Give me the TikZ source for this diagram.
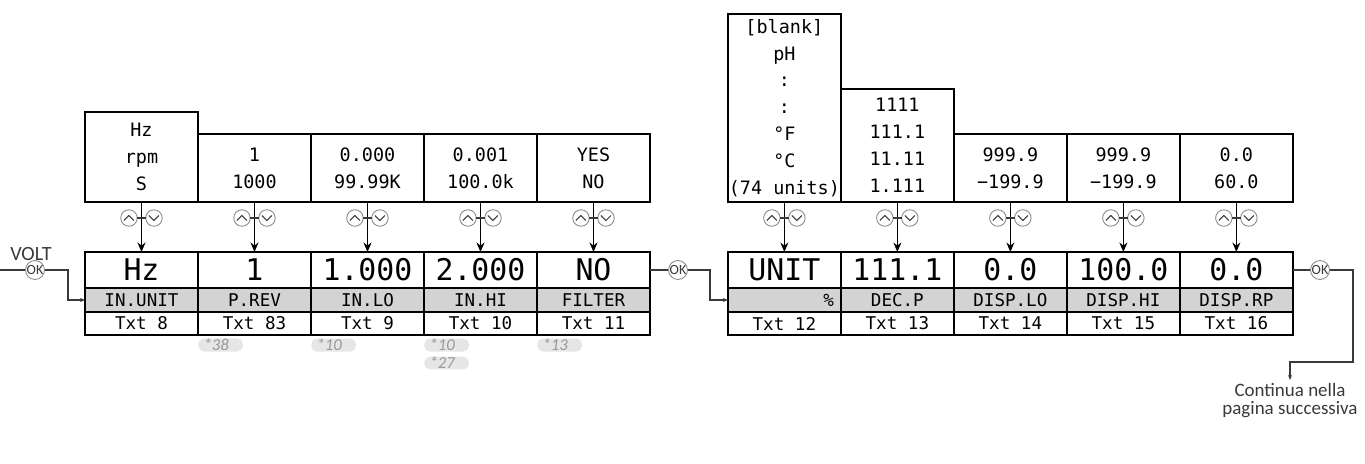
\documentclass[tikz,border=0pt]{standalone}
\usepackage{fontspec}
\usetikzlibrary{arrows.meta}
\newfontfamily\lcdfont{DejaVu Sans Mono}
\newfontfamily\labelfont{Carlito}
\definecolor{cellgray}{HTML}{D3D3D3}
\definecolor{linegray}{HTML}{3A3A3A}
\definecolor{keygray}{HTML}{8A8A8A}
\definecolor{notegray}{HTML}{E6E6E6}
\definecolor{notetext}{HTML}{999999}

% tasti su/giu' sotto la colonna in x = #1
\newcommand{\updownkeys}[1]{%
  \draw[keyring] ({#1-12.5},218) circle (0.165cm);
  \draw[keyring] ({#1+12.5},218) circle (0.165cm);
  \draw[keymark] ({#1-17.5},220.5) -- ({#1-12.5},215.5) -- ({#1-7.5},220.5);
  \draw[keymark] ({#1+7.5},215.5) -- ({#1+12.5},220.5) -- ({#1+17.5},215.5);
  \draw[keymark] ({#1-4.2},218) -- ({#1+4.2},218);
}

\begin{document}
\begin{tikzpicture}[x=0.02cm, y=-0.02cm,
    optbox/.style={draw, line width=0.8pt, minimum width=2.26cm, align=center,
      inner sep=0pt, outer sep=0pt, font=\lcdfont\fontsize{10.5}{15.3}\selectfont},
    valbox/.style={draw, line width=0.8pt, minimum width=2.26cm, minimum height=0.72cm,
      inner sep=0pt, outer sep=0pt, font=\lcdfont\fontsize{17}{20}\selectfont},
    namebox/.style={draw, fill=cellgray, line width=0.8pt, minimum width=2.26cm,
      minimum height=0.48cm, inner sep=0pt, outer sep=0pt,
      font=\lcdfont\fontsize{10}{12}\selectfont},
    txtbox/.style={namebox, fill=white, minimum height=0.46cm},
    okkey/.style={circle, draw=keygray, line width=0.5pt, fill=white, minimum size=0.36cm,
      inner sep=0pt, font=\labelfont\fontsize{8}{8}\selectfont, text=linegray},
    keyring/.style={draw=keygray, line width=0.5pt},
    keymark/.style={draw=linegray, line width=0.6pt},
    flow/.style={draw=linegray, line width=0.6pt, -{Stealth[length=0.1cm, width=0.08cm]}},
    pick/.style={-{Stealth[length=0.19cm, width=0.16cm]}, line width=0.8pt},
    note/.style={anchor=west, fill=notegray, text=notetext, rounded corners=0.11cm,
      text width=0.68cm, align=left, inner xsep=3pt, inner ysep=0.3pt,
      font=\labelfont\itshape\fontsize{9.5}{9.5}\selectfont},
    lbl/.style={font=\labelfont\fontsize{11.5}{11.5}\selectfont, align=center, text=linegray}
  ]
  \useasboundingbox (0,0) rectangle (1365,463);

  % gruppo sinistro: ingresso VOLT
  \begin{scope}[xshift=1.7cm]
    \node[optbox, minimum height=1.8cm] (opt1) at (56.5,157) {Hz\\rpm\\S};
    \node[optbox, minimum height=1.36cm] (opt2) at (169.5,168) {1\\1000};
    \node[optbox, minimum height=1.36cm] (opt3) at (282.5,168) {0.000\\99.99K};
    \node[optbox, minimum height=1.36cm] (opt4) at (395.5,168) {0.001\\100.0k};
    \node[optbox, minimum height=1.36cm] (opt5) at (508.5,168) {YES\\NO};

    \node[valbox] (val1) at (56.5,270) {Hz};
    \node[valbox] (val2) at (169.5,270) {1};
    \node[valbox] (val3) at (282.5,270) {1.000};
    \node[valbox] (val4) at (395.5,270) {2.000};
    \node[valbox] (val5) at (508.5,270) {NO};

    \node[namebox] (name1) at (56.5,300) {IN.UNIT};
    \node[namebox] (name2) at (169.5,300) {P.REV};
    \node[namebox] (name3) at (282.5,300) {IN.LO};
    \node[namebox] (name4) at (395.5,300) {IN.HI};
    \node[namebox] (name5) at (508.5,300) {FILTER};

    \node[txtbox] (txt1) at (56.5,323.5) {Txt 8};
    \node[txtbox] (txt2) at (169.5,323.5) {Txt 83};
    \node[txtbox] (txt3) at (282.5,323.5) {Txt 9};
    \node[txtbox] (txt4) at (395.5,323.5) {Txt 10};
    \node[txtbox] (txt5) at (508.5,323.5) {Txt 11};

    \draw[pick] (opt1) -- (val1);
    \draw[pick] (opt2) -- (val2);
    \draw[pick] (opt3) -- (val3);
    \draw[pick] (opt4) -- (val4);
    \draw[pick] (opt5) -- (val5);
    \updownkeys{56.5}
    \updownkeys{169.5}
    \updownkeys{282.5}
    \updownkeys{395.5}
    \updownkeys{508.5}

    % note
    \node[note] (n38) at (113,345) {*38};
    \node[note] (n10a) at (226,345) {*10};
    \node[note] (n10b) at (339,345) {*10};
    \node[note] (n27) at (339,363) {*27};
    \node[note] (n13) at (452,345) {*13};
  \end{scope}

  % gruppo destro: visualizzazione
  \begin{scope}[xshift=14.56cm]
    \node[optbox, minimum height=3.76cm] (opt6) at (56.5,108)
      {[blank]\\pH\\:\\:\\°F\\°C\\(74 units)};
    \node[optbox, minimum height=2.26cm] (opt7) at (169.5,145.5)
      {1111\\111.1\\11.11\\1.111};
    \node[optbox, minimum height=1.36cm] (opt8) at (282.5,168) {999.9\\−199.9};
    \node[optbox, minimum height=1.36cm] (opt9) at (395.5,168) {999.9\\−199.9};
    \node[optbox, minimum height=1.36cm] (opt10) at (508.5,168) {0.0\\60.0};

    \node[valbox] (val6) at (56.5,270) {UNIT};
    \node[valbox] (val7) at (169.5,270) {111.1};
    \node[valbox] (val8) at (282.5,270) {0.0};
    \node[valbox] (val9) at (395.5,270) {100.0};
    \node[valbox] (val10) at (508.5,270) {0.0};

    \node[namebox, text width=1.98cm, align=right] (name6) at (56.5,300) {\%};
    \node[namebox] (name7) at (169.5,300) {DEC.P};
    \node[namebox] (name8) at (282.5,300) {DISP.LO};
    \node[namebox] (name9) at (395.5,300) {DISP.HI};
    \node[namebox] (name10) at (508.5,300) {DISP.RP};

    \node[txtbox] (txt6) at (56.5,323.5) {Txt 12};
    \node[txtbox] (txt7) at (169.5,323.5) {Txt 13};
    \node[txtbox] (txt8) at (282.5,323.5) {Txt 14};
    \node[txtbox] (txt9) at (395.5,323.5) {Txt 15};
    \node[txtbox] (txt10) at (508.5,323.5) {Txt 16};

    \draw[pick] (opt6) -- (val6);
    \draw[pick] (opt7) -- (val7);
    \draw[pick] (opt8) -- (val8);
    \draw[pick] (opt9) -- (val9);
    \draw[pick] (opt10) -- (val10);
    \updownkeys{56.5}
    \updownkeys{169.5}
    \updownkeys{282.5}
    \updownkeys{395.5}
    \updownkeys{508.5}
  \end{scope}

  % collegamenti con OK
  \coordinate (volt) at (0,270);
  \node[okkey] (ok1) at (35,270) {OK};
  \node[lbl] (voltlbl) at (31,254) {VOLT};
  \draw[flow, -] (volt) -- (ok1);
  \draw[flow] (ok1) -- ++(33,0) |- (name1);

  \node[okkey] (ok2) at (678,270) {OK};
  \draw[flow, -] (val5) -- (ok2);
  \draw[flow] (ok2) -- ++(32,0) |- (name6);

  \node[okkey] (ok3) at (1320,270) {OK};
  \draw[flow, -] (val10) -- (ok3);
  \node[lbl, anchor=north, inner sep=1.5pt, font=\labelfont\fontsize{10.8}{10.5}\selectfont]
    (cont) at (1290,380) {Continua nella\\pagina successiva};
  \draw[flow] (ok3) -- ++(33,0) -- ++(0,92) -| (cont);
\end{tikzpicture}
\end{document}
